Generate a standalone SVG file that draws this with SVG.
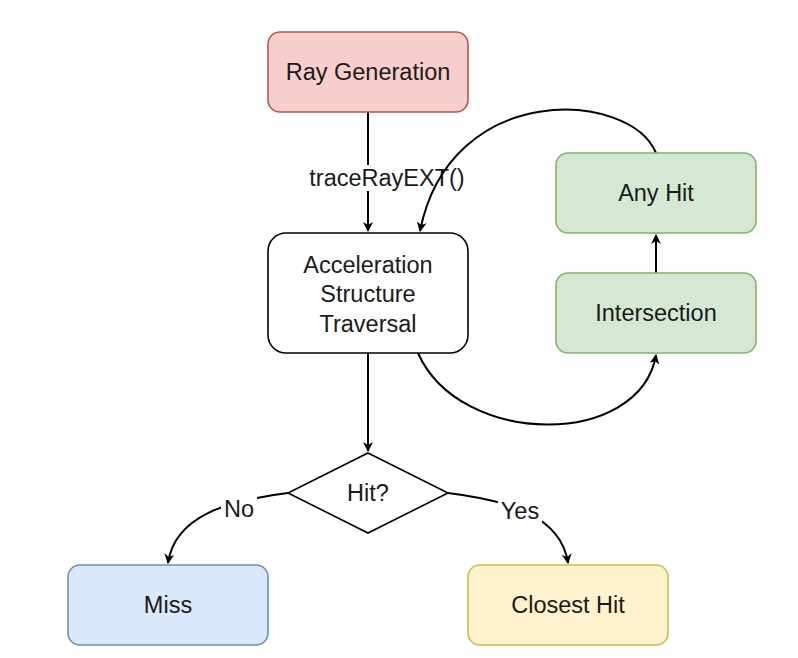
<svg xmlns="http://www.w3.org/2000/svg" width="798" height="658" viewBox="0 0 798 658">
<defs>
<marker id="arr" viewBox="0 0 10 10" refX="9" refY="5" markerWidth="10" markerHeight="10" markerUnits="userSpaceOnUse" orient="auto">
<path d="M0,0 L10,5 L0,10 L3,5 Z" fill="#000"/>
</marker>
<style>
text{font-family:"Liberation Sans",Arial,sans-serif;font-size:23.5px;fill:#1a1a1a;text-anchor:middle;dominant-baseline:central}
.e{fill:none;stroke:#000;stroke-width:2;marker-end:url(#arr)}
.n{stroke-width:1.6}
</style>
</defs>
<rect width="798" height="658" fill="#fff"/>
<g id="connectors">
<path class="e" d="M368,112 L368,231"/>
<rect x="306" y="165" width="162" height="26" fill="#fff"/>
<text x="387" y="178">traceRayEXT()</text>
<path class="e" d="M368,353 L368,451"/>
<path class="e" d="M656,273 L656,235"/>
<path class="e" d="M656,153 C630,90 450,80 420,231"/>
<path class="e" d="M418,353 C460,448 640,448 656,355"/>
<path class="e" d="M288,493 C230,500 175,515 168,563"/>
<path class="e" d="M448,493 C506,500 561,515 568,563"/>
<rect x="221" y="496" width="36" height="26" fill="#fff"/>
<text x="239" y="509">No</text>
<rect x="498" y="498" width="44" height="26" fill="#fff"/>
<text x="520" y="511">Yes</text>
</g>
<g id="raygen">
<rect class="n" x="268" y="32" width="200" height="80" rx="12" fill="#f8cecc" stroke="#b85450"/>
<text x="368" y="72">Ray Generation</text>
</g>
<g id="ast">
<rect class="n" x="268" y="233" width="200" height="120" rx="18" fill="#fff" stroke="#000"/>
<text x="368" y="265">Acceleration</text>
<text x="368" y="294">Structure</text>
<text x="368" y="324">Traversal</text>
</g>
<g id="anyhit">
<rect class="n" x="556" y="153" width="200" height="80" rx="12" fill="#d5e8d4" stroke="#82b366"/>
<text x="656" y="193">Any Hit</text>
</g>
<g id="intersection">
<rect class="n" x="556" y="273" width="200" height="80" rx="12" fill="#d5e8d4" stroke="#82b366"/>
<text x="656" y="313">Intersection</text>
</g>
<g id="hit">
<path class="n" d="M368,453 L448,493 L368,533 L288,493 Z" fill="#fff" stroke="#000"/>
<text x="368" y="493">Hit?</text>
</g>
<g id="miss">
<rect class="n" x="68" y="565" width="200" height="80" rx="12" fill="#dae8fc" stroke="#6c8ebf"/>
<text x="168" y="605">Miss</text>
</g>
<g id="closesthit">
<rect class="n" x="468" y="565" width="200" height="80" rx="12" fill="#fff2cc" stroke="#d6b656"/>
<text x="568" y="605">Closest Hit</text>
</g>
</svg>
